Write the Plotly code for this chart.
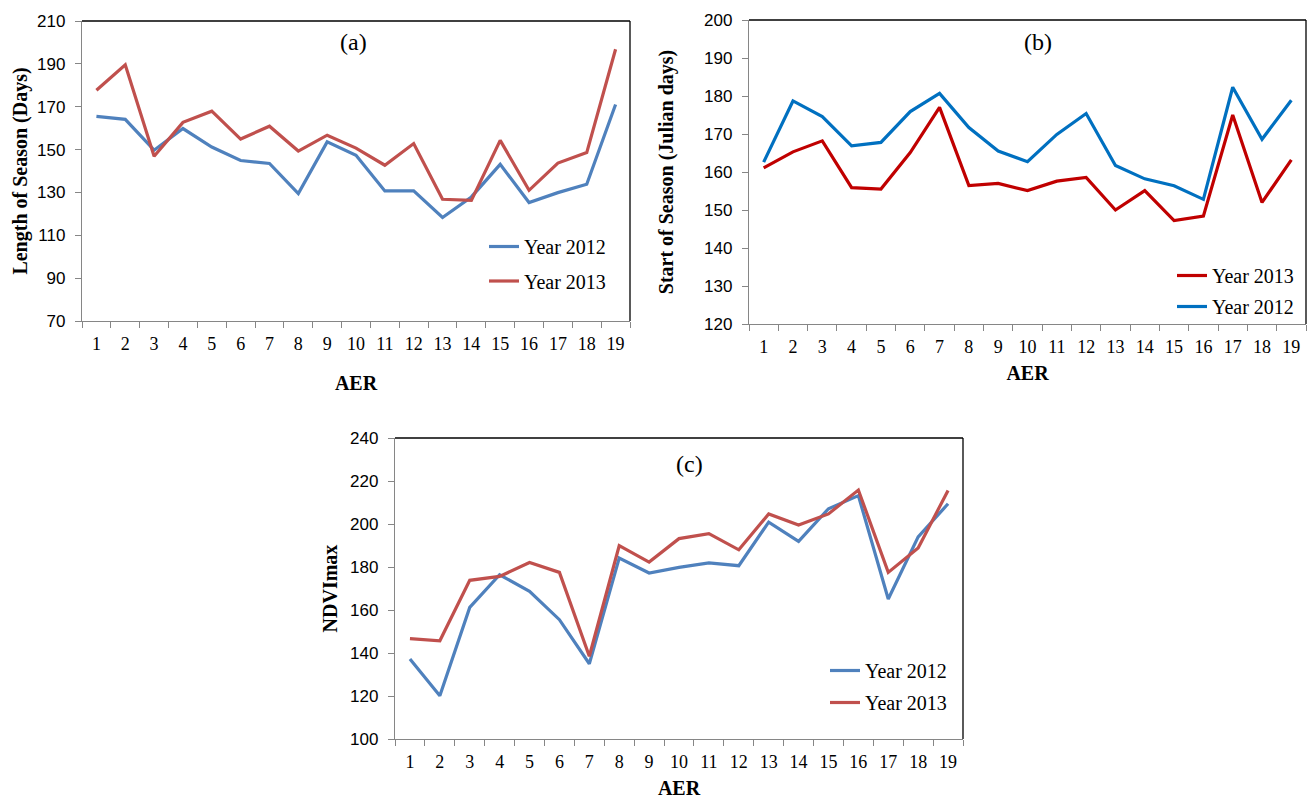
import plotly.graph_objects as go

W, H = 1312, 799

aer = [str(i) for i in range(1, 20)]

los_2012 = [165.5, 164.1, 149.7, 159.8, 151.2, 144.9, 143.5, 129.5, 153.6, 147.3,
            130.7, 130.7, 118.3, 127.9, 143.1, 125.3, 129.9, 133.8, 171.0]
los_2013 = [177.7, 189.6, 146.9, 162.7, 167.9, 154.9, 160.9, 149.3, 156.7, 150.7,
            142.7, 152.8, 126.8, 126.3, 154.3, 131.0, 143.7, 148.6, 196.8]

sos_2012 = [162.6, 178.7, 174.6, 166.9, 167.8, 175.9, 180.7, 171.7, 165.5, 162.7,
            169.9, 175.4, 161.7, 158.2, 156.4, 152.8, 182.3, 168.6, 178.9]
sos_2013 = [161.1, 165.3, 168.2, 155.9, 155.5, 165.1, 177.0, 156.4, 157.0, 155.1,
            157.6, 158.6, 150.0, 155.1, 147.2, 148.4, 175.0, 152.0, 163.2]

ndvi_2012 = [137.2, 120.1, 161.2, 176.4, 168.7, 155.5, 135.0, 184.2, 177.2, 179.8,
             181.9, 180.6, 200.9, 191.9, 207.1, 213.2, 165.1, 194.0, 209.4]
ndvi_2013 = [146.7, 145.7, 173.8, 175.6, 182.1, 177.5, 138.5, 189.9, 182.3, 193.2,
             195.5, 188.0, 204.7, 199.5, 204.7, 215.8, 177.5, 188.8, 215.6]

ticks_a = list(range(70, 211, 20))
ticks_b = list(range(120, 201, 10))
ticks_c = list(range(100, 241, 20))

SERIF = "Liberation Serif, Times New Roman, serif"
SANS = "Liberation Sans, Arial, sans-serif"
AX_GRAY = "#868686"

BLUE_XL = "#4F81BD"
RED_XL = "#C0504D"
BLUE_B = "#0070C0"
RED_B = "#C00000"


def px_dom_x(a, b):
    return [a / W, b / W]


def px_dom_y(top, bottom):
    return [1 - bottom / H, 1 - top / H]


fig = go.Figure()

# panel (a)
fig.add_trace(go.Scatter(x=aer, y=los_2012, mode="lines", name="Year 2012",
                         line=dict(color=BLUE_XL, width=3.2), xaxis="x", yaxis="y",
                         legend="legend", legendgroup="a1"))
fig.add_trace(go.Scatter(x=aer, y=los_2013, mode="lines", name="Year 2013",
                         line=dict(color=RED_XL, width=3.2), xaxis="x", yaxis="y",
                         legend="legend", legendgroup="a2"))
# panel (b)
fig.add_trace(go.Scatter(x=aer, y=sos_2013, mode="lines", name="Year 2013",
                         line=dict(color=RED_B, width=3.2), xaxis="x2", yaxis="y2",
                         legend="legend2", legendgroup="b1"))
fig.add_trace(go.Scatter(x=aer, y=sos_2012, mode="lines", name="Year 2012",
                         line=dict(color=BLUE_B, width=3.2), xaxis="x2", yaxis="y2",
                         legend="legend2", legendgroup="b2"))
# panel (c)
fig.add_trace(go.Scatter(x=aer, y=ndvi_2012, mode="lines", name="Year 2012",
                         line=dict(color=BLUE_XL, width=3.2), xaxis="x3", yaxis="y3",
                         legend="legend3", legendgroup="c1"))
fig.add_trace(go.Scatter(x=aer, y=ndvi_2013, mode="lines", name="Year 2013",
                         line=dict(color=RED_XL, width=3.2), xaxis="x3", yaxis="y3",
                         legend="legend3", legendgroup="c2"))


def xaxis(domain, anchor, standoff):
    return dict(domain=domain, anchor=anchor, type="category",
                categoryorder="array", categoryarray=aer,
                range=[-0.5, 18.5], tickson="boundaries", automargin=False,
                ticks="outside", ticklen=6, tickcolor=AX_GRAY, tickwidth=1,
                showline=True, linecolor=AX_GRAY, linewidth=1.3,
                showgrid=False, zeroline=False, ticklabelstandoff=6,
                tickfont=dict(family=SERIF, size=18, color="black"),
                title=dict(text="<b>AER</b>", font=dict(family=SERIF, size=20, color="black"),
                           standoff=standoff))


def yaxis(domain, anchor, rng, tv, title, standoff):
    return dict(domain=domain, anchor=anchor, range=rng, tickvals=tv, automargin=False,
                ticks="outside", ticklen=6, tickcolor=AX_GRAY, tickwidth=1,
                showline=True, linecolor=AX_GRAY, linewidth=1.3,
                showgrid=False, zeroline=False, ticklabelstandoff=6,
                tickfont=dict(family=SANS, size=17, color="black"),
                title=dict(text="<b>" + title + "</b>",
                           font=dict(family=SERIF, size=20, color="black"),
                           standoff=standoff))


dxa = px_dom_x(82, 630)
dya = px_dom_y(21, 321)
dxb = px_dom_x(749, 1306)
dyb = px_dom_y(20, 324)
dxc = px_dom_x(395, 963)
dyc = px_dom_y(438, 739)


def leg(xp, yp, gap):
    return dict(x=xp / W, y=1 - yp / H, bgcolor="rgba(0,0,0,0)", borderwidth=0,
                tracegroupgap=gap, traceorder="grouped", xanchor="left", yanchor="top",
                font=dict(family=SERIF, size=20, color="black"))


fig.update_layout(
    width=W, height=H,
    margin=dict(l=0, r=0, t=0, b=0, autoexpand=False),
    paper_bgcolor="white", plot_bgcolor="white",
    showlegend=True,
    xaxis=xaxis(dxa, "y", 23),
    yaxis=yaxis(dya, "x", [70, 210], ticks_a, "Length of Season (Days)", 4),
    xaxis2=xaxis(dxb, "y2", 10),
    yaxis2=yaxis(dyb, "x2", [120, 200], ticks_b, "Start of Season (Julian days)", 25),
    xaxis3=xaxis(dxc, "y3", 15),
    yaxis3=yaxis(dyc, "x3", [100, 240], ticks_c, "NDVImax", 7),
    legend=leg(484, 227, 5.5),
    legend2=leg(1172, 256, 2),
    legend3=leg(825, 651, 3),
)

# black top/right borders of each plot area
for xa, ya in (("x", "y"), ("x2", "y2"), ("x3", "y3")):
    fig.add_shape(type="line", xref=xa + " domain", yref=ya + " domain",
                  x0=0, x1=1, y0=1, y1=1, line=dict(color="black", width=1.3))
    fig.add_shape(type="line", xref=xa + " domain", yref=ya + " domain",
                  x0=1, x1=1, y0=0, y1=1, line=dict(color="black", width=1.3))

for txt, cx, cy in (("(a)", 353, 42), ("(b)", 1038, 42), ("(c)", 689, 464)):
    fig.add_annotation(text=txt, x=cx / W, y=1 - cy / H, xref="paper", yref="paper",
                       showarrow=False, xanchor="center", yanchor="middle",
                       font=dict(family=SERIF, size=24, color="black"))

fig.write_html("out.html", config={"displayModeBar": False},
               post_script="document.body.style.margin='0px';document.body.style.overflow='hidden';")
